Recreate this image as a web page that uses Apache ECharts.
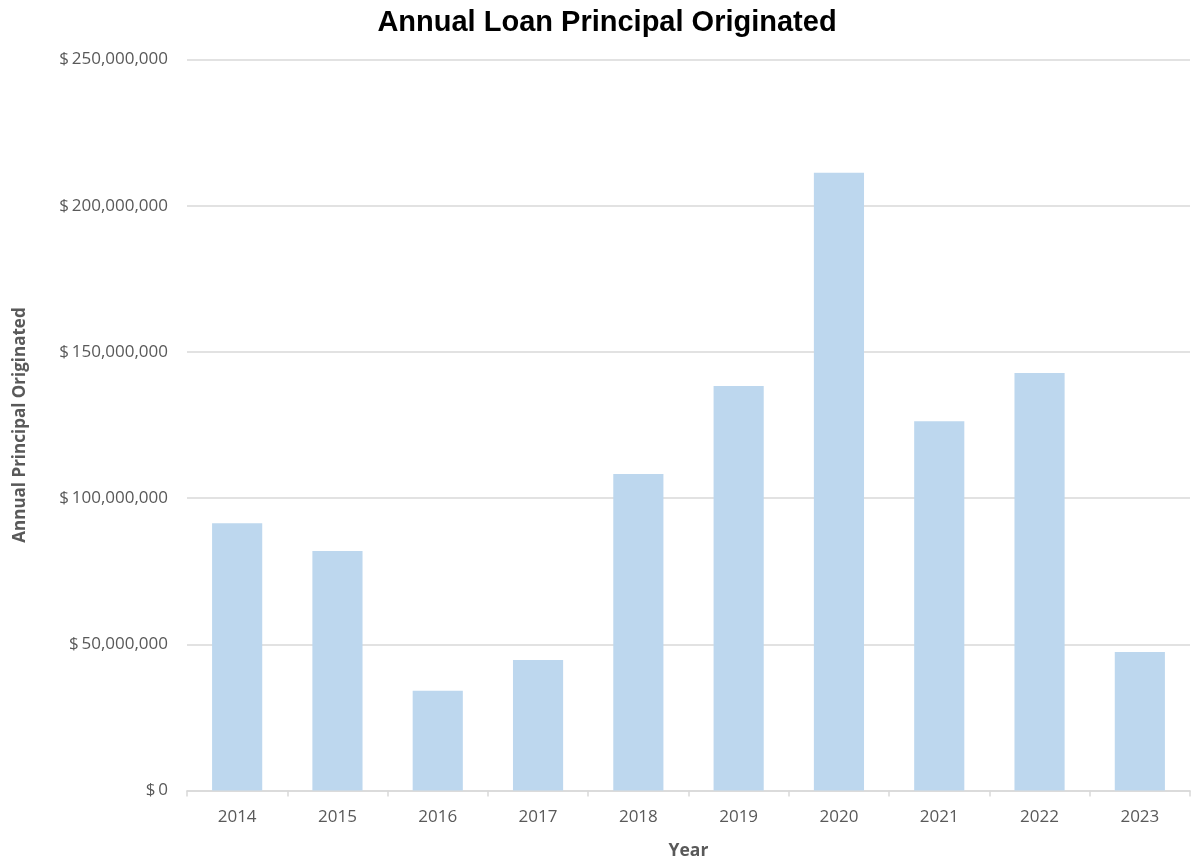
<!DOCTYPE html>
<html>
<head>
<meta charset="utf-8">
<script src="https://cdn.jsdelivr.net/npm/echarts@6/dist/echarts.min.js"></script>
<style>html,body{margin:0;padding:0;background:#fff}#c{width:1192px;height:860px}</style>
</head>
<body>
<div id="c"></div>
<script>
const years = ['2014','2015','2016','2017','2018','2019','2020','2021','2022','2023'];
const principal = [91400000, 81900000, 34100000, 44600000, 108200000, 138300000, 211300000, 126300000, 142800000, 47400000];
const yTicks = [0, 50000000, 100000000, 150000000, 200000000, 250000000];

const chart = echarts.init(document.getElementById('c'));
const labelFont = '"Open Sans", "Liberation Sans", sans-serif';
chart.setOption({
  animation: false,
  title: {
    text: 'Annual Loan Principal Originated',
    left: 602, top: 3, textAlign: 'center',
    textStyle: {fontFamily: '"Liberation Sans", Arial, sans-serif', fontWeight: 'bold', fontSize: 29, color: '#000'}
  },
  grid: {left: 187, right: 2, top: 59.5, bottom: 69.5, containLabel: false, outerBoundsMode: 'none'},
  xAxis: {
    type: 'category', data: years,
    name: 'Year', nameLocation: 'middle', nameGap: 52,
    nameTextStyle: {fontFamily: labelFont, fontWeight: 'bold', fontSize: 17.5, color: '#595959'},
    axisLine: {lineStyle: {color: '#d9d9d9', width: 1.5}},
    axisTick: {show: true, alignWithLabel: false, length: 6, lineStyle: {color: '#d9d9d9', width: 1.5}},
    axisLabel: {fontFamily: labelFont, fontSize: 17, color: '#595959', margin: 18}
  },
  yAxis: {
    type: 'value', min: yTicks[0], max: yTicks[yTicks.length-1], interval: yTicks[1]-yTicks[0],
    name: 'Annual Principal Originated', nameLocation: 'middle', nameGap: 158, nameRotate: 90,
    nameTextStyle: {fontFamily: labelFont, fontWeight: 'bold', fontSize: 17, color: '#595959'},
    axisLine: {show: false}, axisTick: {show: false},
    splitLine: {lineStyle: {color: '#d9d9d9', width: 1.5}},
    axisLabel: {
      fontFamily: labelFont, fontSize: 17, color: '#595959', margin: 19,
      formatter: v => '$\u2009' + v.toLocaleString('en-US')
    }
  },
  series: [{
    type: 'bar', data: principal, barWidth: '50%',
    itemStyle: {color: '#BDD7EE'}
  }]
});
</script>
</body>
</html>
